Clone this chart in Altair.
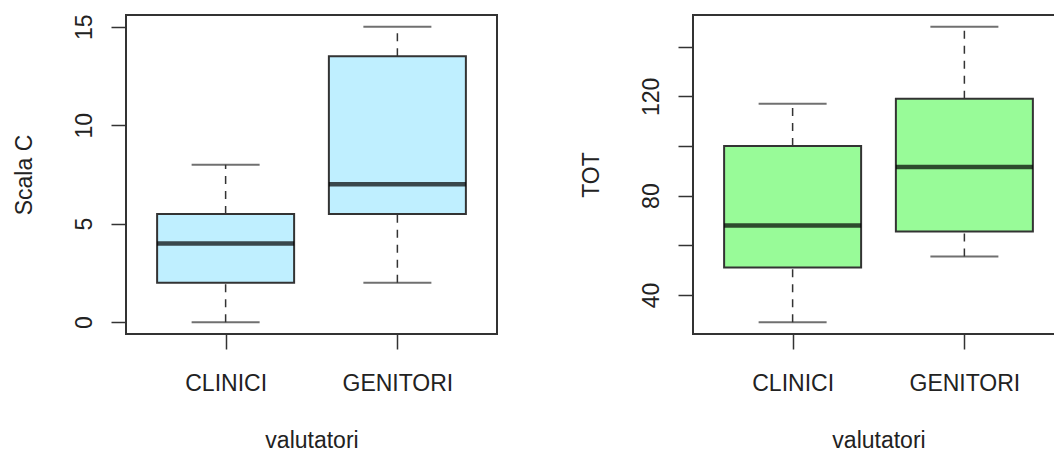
import altair as alt
import pandas as pd

groups = ["CLINICI", "GENITORI"]

scala_min = [0, 2]
scala_q1 = [2, 5.5]
scala_med = [4, 7]
scala_q3 = [5.5, 13.5]
scala_max = [8, 15]

tot_min = [29, 55.5]
tot_q1 = [51, 65.5]
tot_med = [68, 91.5]
tot_q3 = [100, 119]
tot_max = [117, 148]

FONT = "Liberation Sans"
TXT = "#222222"
LINE = "#333333"
W, H = 371, 319


def panel(mins, q1s, meds, q3s, maxs, ytitle, fill, tick_values, label_expr):
    df = pd.DataFrame({"g": groups, "lo": mins, "q1": q1s, "med": meds,
                       "q3": q3s, "hi": maxs})
    lo, hi = min(mins), max(maxs)
    ext = (hi - lo) * 0.04
    yscale = alt.Scale(domain=[lo - ext, hi + ext], nice=False, zero=False)
    xscale = alt.Scale(type="point", padding=0.58)
    x = alt.X("g:N", scale=xscale, sort=groups,
              axis=alt.Axis(title="valutatori", labelAngle=0, domain=False,
                            tickSize=15, tickWidth=1.5, tickColor=LINE,
                            labelFont=FONT, labelFontSize=23, labelColor=TXT,
                            labelBaseline="alphabetic", labelPadding=41,
                            titleFont=FONT, titleFontSize=23, titleColor=TXT,
                            titleFontWeight="normal", titleBaseline="alphabetic",
                            titleY=113))
    yaxis = alt.Axis(title=ytitle, values=tick_values, labelExpr=label_expr,
                     grid=False, domain=False, tickSize=15, tickWidth=1.5,
                     tickColor=LINE, labelAngle=270, labelAlign="center",
                     labelBaseline="alphabetic", labelPadding=20,
                     labelFont=FONT, labelFontSize=23, labelColor=TXT,
                     titleFont=FONT, titleFontSize=23, titleColor=TXT,
                     titleFontWeight="normal", titleAngle=270,
                     titleAlign="center", titleBaseline="alphabetic",
                     titleX=-95, titleY=H / 2)
    base = alt.Chart(df)
    lower = base.mark_rule(color=LINE, strokeWidth=1.5, strokeDash=[8, 7]).encode(
        x=x, y=alt.Y("lo:Q", scale=yscale, axis=yaxis), y2="q1:Q")
    upper = base.mark_rule(color=LINE, strokeWidth=1.5, strokeDash=[8, 7]).encode(
        x=x, y=alt.Y("q3:Q", scale=yscale), y2="hi:Q")
    cap_lo = base.mark_tick(color=LINE, size=68, thickness=2).encode(
        x=x, y=alt.Y("lo:Q", scale=yscale))
    cap_hi = base.mark_tick(color=LINE, size=68, thickness=2).encode(
        x=x, y=alt.Y("hi:Q", scale=yscale))
    box = base.mark_bar(size=137, fill=fill, stroke=LINE, strokeWidth=2).encode(
        x=x, y=alt.Y("q1:Q", scale=yscale), y2="q3:Q")
    med = base.mark_tick(color="#000000", size=137, thickness=4.5).encode(
        x=x, y=alt.Y("med:Q", scale=yscale))
    return alt.layer(lower, upper, cap_lo, cap_hi, box, med).properties(
        width=W, height=H)


left = panel(scala_min, scala_q1, scala_med, scala_q3, scala_max, "Scala C",
             "#BFEFFF", [0, 5, 10, 15], "datum.label")
right = panel(tot_min, tot_q1, tot_med, tot_q3, tot_max, "TOT",
              "#98FB98", [40, 60, 80, 100, 120, 140],
              "datum.value % 40 == 0 ? datum.label : ''")

chart = alt.hconcat(left, right, spacing=196, bounds="flush").properties(
    autosize=alt.AutoSizeParams(type="none"),
    padding={"left": 118, "top": 7, "right": 928, "bottom": 431},
    background="white",
).configure_view(stroke=LINE, strokeWidth=2)

chart.save("out.html", embed_options={"renderer": "svg", "actions": False})
